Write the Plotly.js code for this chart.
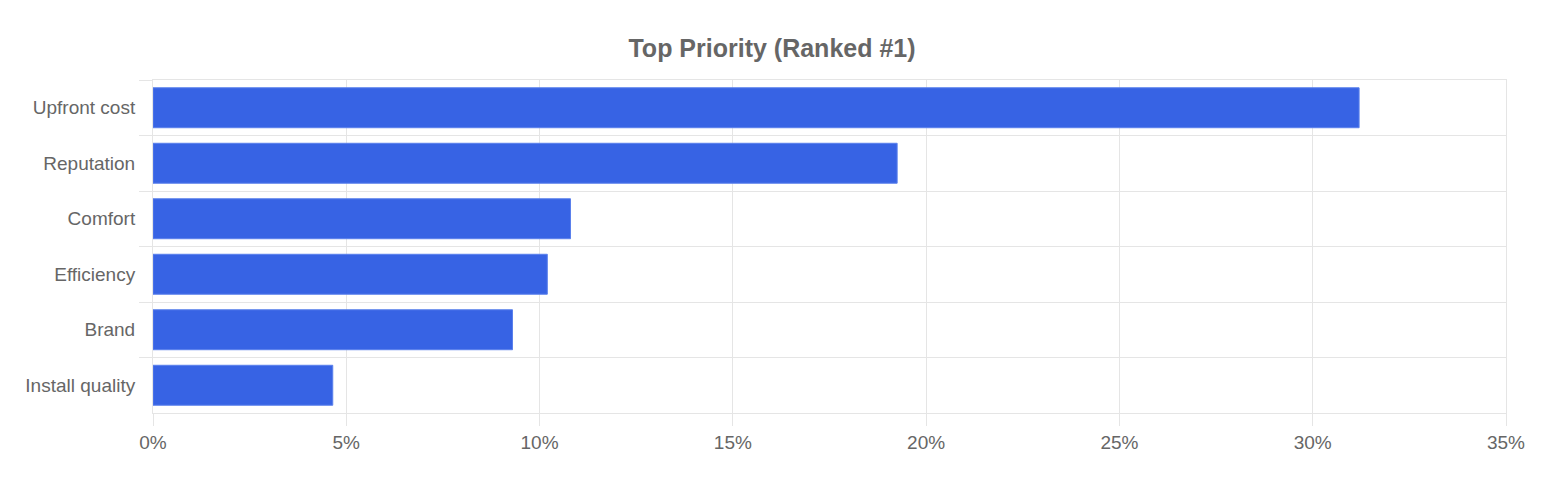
<!DOCTYPE html>
<html>
<head>
<meta charset="utf-8">
<script src="https://cdn.plot.ly/plotly-3.0.1.min.js"></script>
<style>html,body{margin:0;padding:0;background:#fff;}#chart{width:1544px;height:488px;}</style>
</head>
<body>
<div id="chart"></div>
<script>
const categories = ["Upfront cost", "Reputation", "Comfort", "Efficiency", "Brand", "Install quality"];
const values = [31.2, 19.25, 10.8, 10.2, 9.3, 4.65];
const xTickVals = [0, 5, 10, 15, 20, 25, 30, 35];
const xTickText = ["0%", "5%", "10%", "15%", "20%", "25%", "30%", "35%"];

const gridColor = "#e5e5e5";
const textColor = "#666666";
const font = "Liberation Sans, Arial, Helvetica, sans-serif";

Plotly.newPlot("chart", [{
  type: "bar",
  orientation: "h",
  y: categories,
  x: values,
  marker: {color: "#3763e4", line: {color: "#5a80ec", width: 1}},
  hoverinfo: "x+y"
}], {
  width: 1544, height: 488,
  margin: {l: 153, r: 38, t: 80, b: 75},
  paper_bgcolor: "#fff", plot_bgcolor: "#fff",
  bargap: 0.28,
  showlegend: false,
  title: {
    text: "<b>Top Priority (Ranked #1)</b>",
    font: {family: font, size: 25, color: textColor},
    x: 0.5, xanchor: "center",
    yref: "container", y: 1 - 48/488, yanchor: "middle"
  },
  xaxis: {
    range: [0, 35],
    tickvals: xTickVals, ticktext: xTickText,
    showgrid: true, gridcolor: gridColor, gridwidth: 1,
    zeroline: false,
    showline: true, linecolor: gridColor, linewidth: 1, mirror: true,
    ticks: "outside", ticklen: 12, tickcolor: gridColor, tickwidth: 1,
    tickfont: {family: font, size: 19, color: textColor},
    fixedrange: true
  },
  yaxis: {
    type: "category",
    autorange: "reversed",
    tickson: "boundaries",
    showgrid: true, gridcolor: gridColor, gridwidth: 1,
    showline: true, linecolor: gridColor, linewidth: 1, mirror: true,
    ticks: "outside", ticklen: 13, tickcolor: gridColor, tickwidth: 1,
    ticklabelstandoff: 13,
    tickfont: {family: font, size: 19, color: textColor},
    fixedrange: true
  }
}, {displayModeBar: false, staticPlot: true});
</script>
</body>
</html>
